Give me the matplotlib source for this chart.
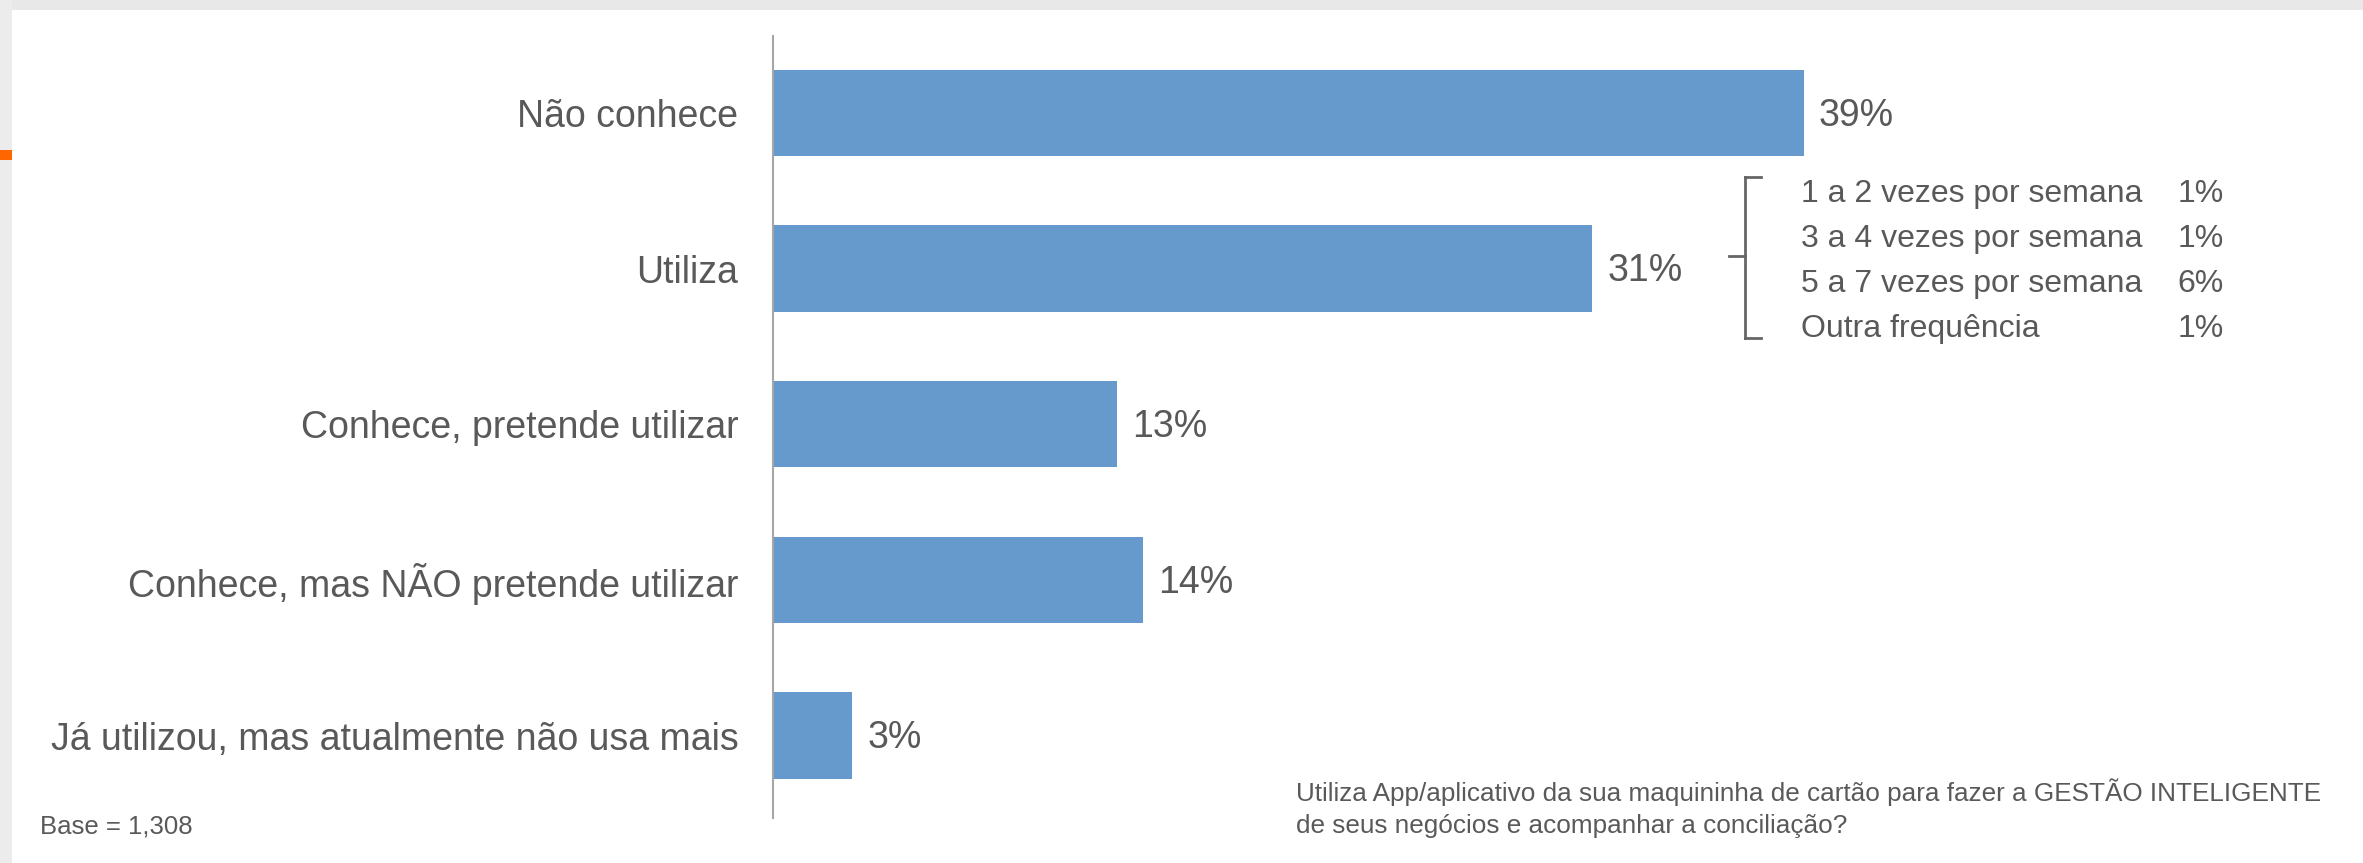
import matplotlib
matplotlib.use("Agg")
import matplotlib.pyplot as plt
from matplotlib.patches import Rectangle

plt.rcParams['font.family'] = ['Liberation Sans', 'DejaVu Sans']

categories = ["Não conhece", "Utiliza", "Conhece, pretende utilizar",
              "Conhece, mas NÃO pretende utilizar",
              "Já utilizou, mas atualmente não usa mais"]
values = [39, 31, 13, 14, 3]

freq_labels = ["1 a 2 vezes por semana", "3 a 4 vezes por semana",
               "5 a 7 vezes por semana", "Outra frequência"]
freq_values = [1, 1, 6, 1]

question = ("Utiliza App/aplicativo da sua maquininha de cartão para fazer a GESTÃO INTELIGENTE\n"
            "de seus negócios e acompanhar a conciliação?")
base_note = "Base = 1,308"

TXT = '#595959'
BAR = '#6699CC'

W, H = 2363, 863
fig = plt.figure(figsize=(W / 100, H / 100), dpi=100)
fig.patch.set_facecolor('white')

# slide frame bits: grey top/left strip, small orange marker
fig.add_artist(Rectangle((0, 1 - 10 / H), 1, 10 / H, transform=fig.transFigure,
                         color='#e8e8e8', lw=0))
fig.add_artist(Rectangle((0, 0), 12 / W, 1, transform=fig.transFigure,
                         color='#ececec', lw=0))
fig.add_artist(Rectangle((0, 1 - 160 / H), 12 / W, 10 / H, transform=fig.transFigure,
                         color='#ff6600', lw=0))

# axes: left spine at x=773px, from y=36px to y=818px
x0 = 773 / W
xmax = 40
px_per = 26.43
ax = fig.add_axes([x0, 1 - 818 / H, xmax * px_per / W, (818 - 36) / H])

pos = list(range(len(categories)))
ax.barh(pos, values, height=0.555, color=BAR)
ax.set_ylim(4.53, -0.495)
ax.set_xlim(0, xmax)

for s in ['top', 'right', 'bottom']:
    ax.spines[s].set_visible(False)
ax.spines['left'].set_color('#a6a6a6')
ax.spines['left'].set_linewidth(1.5)
ax.set_xticks([])
ax.set_yticks(pos)
ax.set_yticklabels(categories, fontsize=27, color=TXT)
ax.tick_params(axis='y', length=0, pad=25)

for p, v in zip(pos, values):
    ax.annotate(f"{v}%", (v, p), xytext=(11, -2), textcoords='offset points',
                va='center', ha='left', fontsize=27, color=TXT)

# bracket with the frequency breakdown of "Utiliza"
def fx(px):
    return px / W

def fy(py):
    return 1 - py / H

bx = 1745
top_y, bot_y, mid_y = 177, 338, 256
kw = dict(transform=fig.transFigure, color='#666666', lw=2)
fig.add_artist(plt.Line2D([fx(bx), fx(bx)], [fy(top_y), fy(bot_y)], **kw))
fig.add_artist(plt.Line2D([fx(bx), fx(bx + 16)], [fy(top_y), fy(top_y)], **kw))
fig.add_artist(plt.Line2D([fx(bx), fx(bx + 16)], [fy(bot_y), fy(bot_y)], **kw))
fig.add_artist(plt.Line2D([fx(bx - 16), fx(bx)], [fy(mid_y), fy(mid_y)], **kw))

row_y = [194, 239, 284, 329]
for lab, v, yy in zip(freq_labels, freq_values, row_y):
    fig.text(fx(1801), fy(yy), lab, fontsize=23, color=TXT, va='center', ha='left')
    fig.text(fx(2224), fy(yy), f"{v}%", fontsize=23, color=TXT, va='center', ha='right')

fig.text(fx(1296), fy(808), question, fontsize=18.8, color=TXT, va='center',
         ha='left', linespacing=1.4)
fig.text(fx(40), fy(826), base_note, fontsize=18.5, color=TXT, va='center', ha='left')

fig.savefig("out.png", dpi=100, facecolor='white')
